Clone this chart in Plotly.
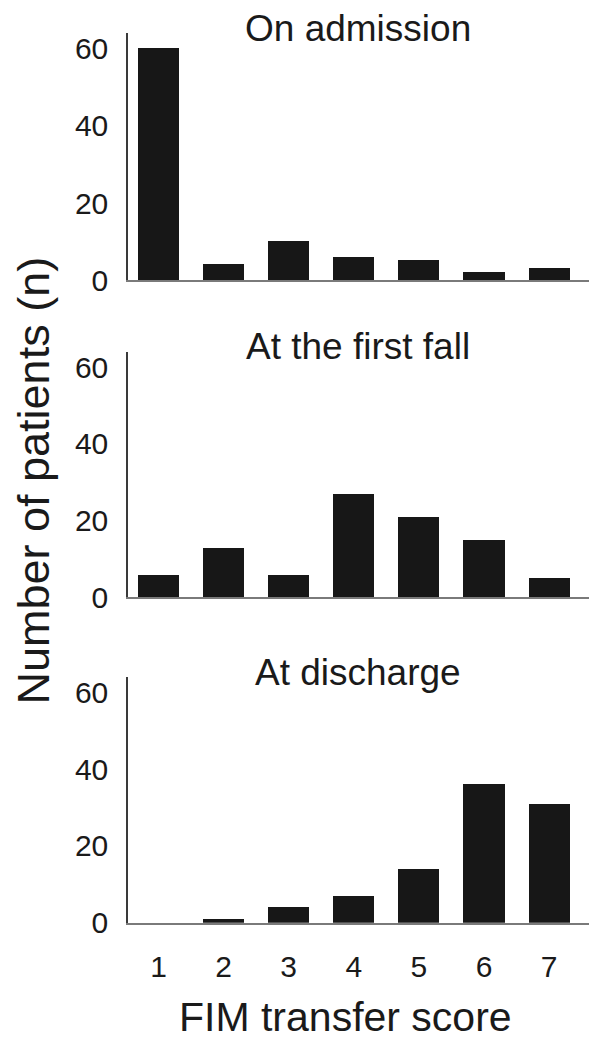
import plotly.graph_objects as go

scores = [1, 2, 3, 4, 5, 6, 7]
admission = [60, 4, 10, 6, 5, 2, 3]
first_fall = [6, 13, 6, 27, 21, 15, 5]
discharge = [0, 1, 4, 7, 14, 36, 31]
panel_titles = ["On admission", "At the first fall", "At discharge"]
y_ticks = [0, 20, 40, 60]
x_title = "FIM transfer score"
y_title = "Number of patients (n)"

W, H = 589, 1040
FONT = "Liberation Sans, Arial, Helvetica, sans-serif"
series = [admission, first_fall, discharge]
# pixel top / bottom of each plot area
bounds = [(33, 284), (357, 607), (688, 938)]

fig = go.Figure()
layout = dict(
    width=W, height=H,
    margin=dict(l=0, r=0, t=0, b=0),
    paper_bgcolor="white", plot_bgcolor="white",
    showlegend=False,
    font=dict(family=FONT, color="#1a1a1a"),
    bargap=0,
)
annotations = []
for i, (vals, (top, bot)) in enumerate(zip(series, bounds)):
    sfx = "" if i == 0 else str(i + 1)
    fig.add_trace(go.Bar(
        x=scores, y=vals, width=0.63,
        marker=dict(color="#171717", line=dict(width=0)),
        xaxis="x" + sfx, yaxis="y" + sfx,
    ))
    layout["xaxis" + sfx] = dict(
        domain=[128 / W, 1.0], anchor="y" + sfx,
        range=[0.5315, 7.613],
        tickvals=scores, ticktext=[str(s) for s in scores],
        showticklabels=(i == 2), ticks="",
        showline=True, linecolor="#7a7a7a", linewidth=2,
        showgrid=False, zeroline=False,
        tickfont=dict(size=30, family=FONT, color="#1a1a1a"),
        ticklabelstandoff=16,
    )
    layout["yaxis" + sfx] = dict(
        domain=[1 - bot / H, 1 - top / H], anchor="x" + sfx,
        range=[0, 64], tickvals=y_ticks,
        ticks="", showline=True, linecolor="#3a3a3a", linewidth=1.5,
        showgrid=False, zeroline=False,
        tickfont=dict(size=30, family=FONT, color="#1a1a1a"),
        ticklabelstandoff=12,
    )
    annotations.append(dict(
        text=panel_titles[i], xref="paper", yref="paper",
        x=358 / W, y=1 - (top - 5) / H, xanchor="center", yanchor="middle",
        showarrow=False, font=dict(size=37, family=FONT, color="#1a1a1a"),
    ))

annotations.append(dict(
    text=y_title, xref="paper", yref="paper",
    x=34 / W, y=1 - 488 / H, xanchor="center", yanchor="middle",
    textangle=-90, showarrow=False,
    font=dict(size=45, family=FONT, color="#1a1a1a"),
))
annotations.append(dict(
    text=x_title, xref="paper", yref="paper",
    x=345 / W, y=1 - 1034 / H, xanchor="center", yanchor="middle",
    showarrow=False, font=dict(size=41, family=FONT, color="#1a1a1a"),
))
layout["annotations"] = annotations
fig.update_layout(**layout)
fig.write_html(
    "out.html",
    config={"displayModeBar": False},
    post_script="document.body.style.margin='0';document.body.style.overflow='hidden';",
)
